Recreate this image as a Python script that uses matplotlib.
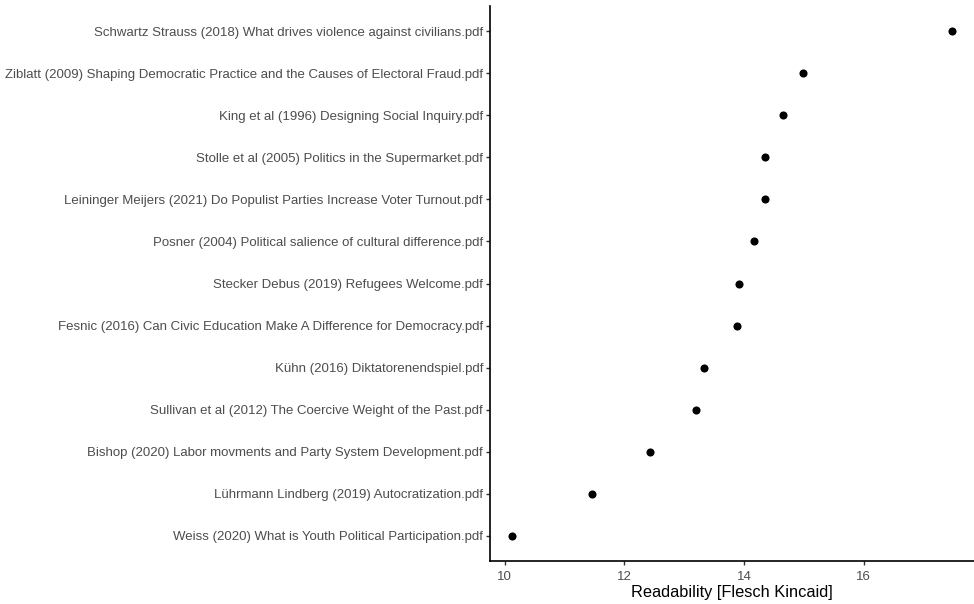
import numpy as np
import matplotlib
matplotlib.use("Agg")
import matplotlib.pyplot as plt

plt.rcParams["font.family"] = ["Liberation Sans", "DejaVu Sans"]

# papers, bottom to top as drawn
papers = [
    "Weiss (2020) What is Youth Political Participation.pdf",
    "Lührmann Lindberg (2019) Autocratization.pdf",
    "Bishop (2020) Labor movments and Party System Development.pdf",
    "Sullivan et al (2012) The Coercive Weight of the Past.pdf",
    "Kühn (2016) Diktatorenendspiel.pdf",
    "Fesnic (2016) Can Civic Education Make A Difference for Democracy.pdf",
    "Stecker Debus (2019) Refugees Welcome.pdf",
    "Posner (2004) Political salience of cultural difference.pdf",
    "Leininger Meijers (2021) Do Populist Parties Increase Voter Turnout.pdf",
    "Stolle et al (2005) Politics in the Supermarket.pdf",
    "King et al (1996) Designing Social Inquiry.pdf",
    "Ziblatt (2009) Shaping Democratic Practice and the Causes of Electoral Fraud.pdf",
    "Schwartz Strauss (2018) What drives violence against civilians.pdf",
]
readability = [10.12, 11.46, 12.42, 13.19, 13.33, 13.88, 13.91, 14.17, 14.35, 14.36, 14.66, 14.99, 17.48]
xticks = [10, 12, 14, 16]

fig = plt.figure(figsize=(9.74, 6.04), dpi=100)
ax = fig.add_axes([490 / 974, 1 - 561 / 604, 1 - 490 / 974, (561 - 6) / 604])

y = np.arange(len(papers))
ax.scatter(readability, y, s=34, color="black", zorder=3, linewidths=0)

rng = max(readability) - min(readability)
ax.set_xlim(min(readability) - 0.05 * rng, max(readability) + 0.05 * rng)
ax.set_ylim(-0.6, len(papers) - 1 + 0.6)
ax.set_yticks(y)
ax.set_yticklabels(papers)
ax.set_xticks(xticks)

for s in ["top", "right"]:
    ax.spines[s].set_visible(False)
for s in ["left", "bottom"]:
    ax.spines[s].set_linewidth(1.2)
    ax.spines[s].set_color("black")
ax.tick_params(axis="both", length=3, width=1.0, color="#333333",
               labelcolor="#4D4D4D", labelsize=9.5)
ax.tick_params(axis="y", pad=2)
ax.tick_params(axis="x", pad=4)
ax.set_xlabel("Readability [Flesch Kincaid]", fontsize=11.8, color="black", labelpad=1.5)

fig.savefig("out.png", dpi=100)
